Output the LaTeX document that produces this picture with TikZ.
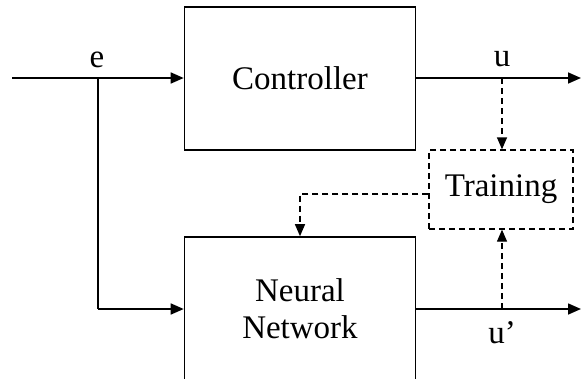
\documentclass[tikz,border=0pt]{standalone}
\usepackage{fontspec}
\setmainfont{Liberation Serif}
\usetikzlibrary{arrows.meta}
\begin{document}
\begin{tikzpicture}[x=1pt,y=-1pt,
  blk/.style={draw,line width=1.6pt,minimum width=231pt,minimum height=143pt,inner sep=0pt,align=center,font=\fontsize{33}{37}\selectfont},
  trainbox/.style={draw,line width=1.3pt,dash pattern=on 6pt off 4pt,minimum width=144pt,minimum height=79pt,inner sep=0pt,font=\fontsize{33}{37}\selectfont},
  sig/.style={line width=1.6pt,-{Triangle[length=13pt,width=11pt]}},
  dsig/.style={line width=1.3pt,dash pattern=on 6pt off 4pt,-{Triangle[length=12pt,width=10pt]}},
  lbl/.style={font=\fontsize{33}{37}\selectfont,inner sep=0pt}]
\useasboundingbox (0,0) rectangle (581,378);
\clip (0,0) rectangle (581,378);
\node[blk] (ctrl) at (300,78.5) {Controller};
\node[blk] (nn) at (300,308.5) {Neural\\Network};
\node[trainbox] (train) at (501,189.5) {Training};
\coordinate (in) at (12,78);
\coordinate (br) at (98,78);
\coordinate (brd) at (98,309);
\coordinate (uout) at (581,78);
\coordinate (upout) at (581,309);
\coordinate (utap) at (502,78);
\coordinate (uptap) at (502,309);
\coordinate (tl) at (train.west |- 0,194);
\coordinate (corner) at (300,194);
\draw[sig] (in) -- (ctrl.west |- in);
\draw[line width=1.6pt] (br) -- (brd);
\draw[sig] (brd) -- (nn.west |- brd);
\draw[sig] (ctrl.east |- uout) -- (uout);
\draw[sig] (nn.east |- upout) -- (upout);
\draw[dsig] (utap) -- (utap |- train.north);
\draw[dsig] (uptap) -- (uptap |- train.south);
\draw[dsig] (tl) -- (corner) -- (corner |- nn.north);
\node[lbl] (e) at (97,60) {e};
\node[lbl] (u) at (502,59) {u};
\node[lbl] (up) at (502,333) {u’};
\end{tikzpicture}
\end{document}
